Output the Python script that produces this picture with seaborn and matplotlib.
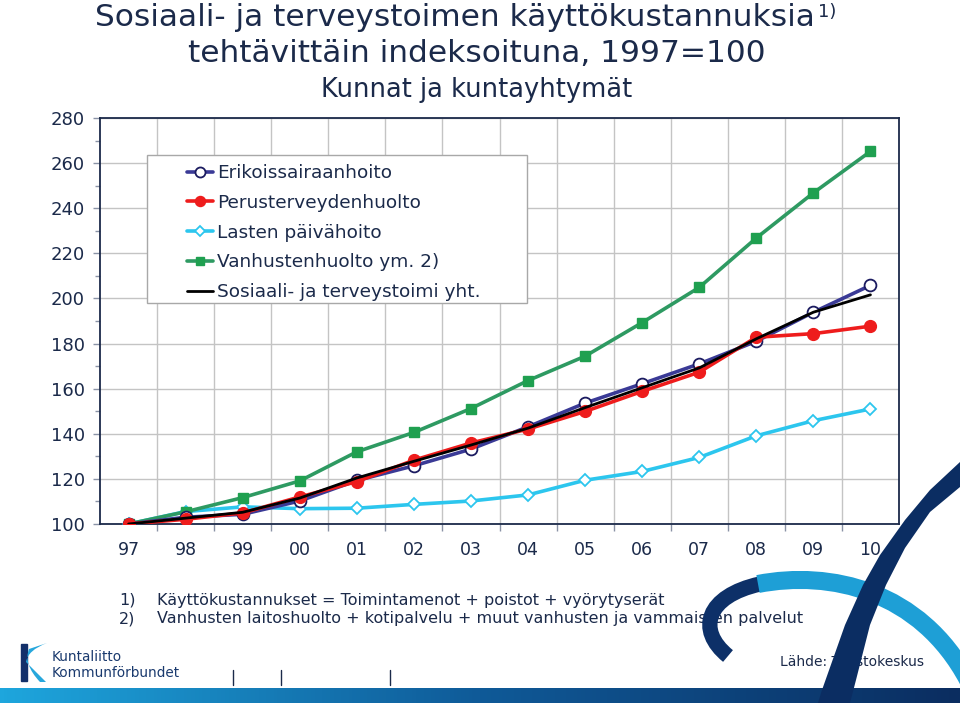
import numpy as np
import pandas as pd
import matplotlib
matplotlib.use("Agg")
import matplotlib.pyplot as plt
import seaborn as sns
from matplotlib.path import Path
from matplotlib.patches import PathPatch, Polygon, Rectangle
from matplotlib.lines import Line2D

# ---------------- data ----------------
years = ["97", "98", "99", "00", "01", "02", "03", "04", "05", "06", "07", "08", "09", "10"]
erikoissairaanhoito = [100, 103.0, 104.3, 110.2, 119.3, 125.8, 133.2, 143.1, 153.6, 162.2, 171.0, 181.0, 193.9, 205.8]
perusterveydenhuolto = [100, 102.1, 104.9, 112.0, 118.8, 128.3, 135.9, 142.1, 149.9, 158.8, 167.3, 182.8, 184.4, 187.7]
lasten_paivahoito = [100, 105.5, 107.6, 106.8, 107.0, 108.7, 110.2, 112.9, 119.4, 123.3, 129.5, 139.1, 145.8, 151.0]
vanhustenhuolto = [100, 105.4, 111.7, 119.1, 132.0, 140.6, 151.2, 163.6, 174.4, 189.3, 204.9, 226.8, 246.8, 265.2]
yhteensa = [100, 102.6, 105.2, 111.5, 120.4, 127.8, 135.0, 142.5, 151.6, 160.4, 169.2, 182.1, 193.9, 201.6]

series_names = ["Erikoissairaanhoito", "Perusterveydenhuolto", "Lasten päivähoito",
                "Vanhustenhuolto ym. 2)", "Sosiaali- ja terveystoimi yht."]
y_ticks = [100, 120, 140, 160, 180, 200, 220, 240, 260, 280]

NAVY = "#1b2a4a"
W, H = 960, 703

sns.set_theme(style="white")
plt.rcParams["font.family"] = ["DejaVu Sans"]

fig = plt.figure(figsize=(W / 100, H / 100), dpi=100)
fig.patch.set_facecolor("white")

ax = fig.add_axes([100 / W, 1 - 524 / H, 799 / W, 406 / H])
x = np.arange(len(years))

styles = [
    dict(data=erikoissairaanhoito, color="#3a3a96", marker="o", mfc="white", mec="#1b1b60", ms=8.5, lw=2.6, mew=1.3, z=4),
    dict(data=perusterveydenhuolto, color="#ee1c1c", marker="o", mfc="#ee1c1c", mec="#ee1c1c", ms=8.5, lw=2.6, mew=1.0, z=5),
    dict(data=lasten_paivahoito, color="#2cc6ee", marker="D", mfc="white", mec="#2cc6ee", ms=6.5, lw=2.6, mew=1.3, z=3),
    dict(data=vanhustenhuolto, color="#2e9a62", marker="s", mfc="#1fa050", mec="#1fa050", ms=7, lw=2.6, mew=1.0, z=3),
    dict(data=yhteensa, color="black", marker=None, mfc="black", mec="black", ms=0, lw=2.0, mew=0, z=6),
]

handles = []
for name, st in zip(series_names, styles):
    df = pd.DataFrame({"year": x, "value": st["data"]})
    sns.lineplot(data=df, x="year", y="value", ax=ax, color=st["color"], linewidth=st["lw"],
                 marker=st["marker"], markersize=st["ms"], markerfacecolor=st["mfc"],
                 markeredgecolor=st["mec"], markeredgewidth=st["mew"], zorder=st["z"],
                 legend=False)
    handles.append(Line2D([0], [0], color=st["color"], lw=st["lw"], marker=st["marker"],
                          ms=st["ms"] * 0.85, mfc=st["mfc"], mec=st["mec"], mew=st["mew"]))

ax.set_xlim(-0.5, len(years) - 0.5)
ax.set_ylim(100, 280)
ax.set_xlabel("")
ax.set_ylabel("")
ax.set_xticks(x)
ax.set_xticklabels(years)
ax.set_xticks(np.arange(0.5, len(years) - 0.5, 1), minor=True)
ax.set_yticks(y_ticks)
ax.set_yticks(np.arange(110, 280, 20), minor=True)
ax.tick_params(axis="x", which="major", length=0, pad=12, labelsize=12.5, labelcolor=NAVY)
ax.tick_params(axis="x", which="minor", length=5, width=1, color="#8a93a6", direction="out", bottom=True)
ax.tick_params(axis="y", which="major", length=5, width=1, color="#8a93a6", direction="out", left=True,
               pad=6, labelsize=13, labelcolor=NAVY)
ax.tick_params(axis="y", which="minor", length=3.5, width=1, color="#8a93a6", direction="out", left=True)
ax.grid(False)
ax.grid(True, axis="y", which="major", color="#c4c4c4", lw=1.0)
ax.grid(True, axis="x", which="minor", color="#c4c4c4", lw=1.0)
ax.set_axisbelow(True)
for sp in ax.spines.values():
    sp.set_color(NAVY)
    sp.set_linewidth(1.3)
    sp.set_visible(True)

# legend box (frame drawn separately to match the wide reference box)
def ax_fx(px):
    return (px - 100) / 799

def ax_fy(py):
    return (524 - py) / 406

ax.add_patch(Rectangle((ax_fx(147), ax_fy(303)), ax_fx(527) - ax_fx(147), ax_fy(155) - ax_fy(303),
                       transform=ax.transAxes, facecolor="white", edgecolor="#a8a8a8", lw=1.0, zorder=9))
leg = ax.legend(handles, series_names, loc="upper left", bbox_to_anchor=(ax_fx(187), ax_fy(164)),
                fontsize=13.3, frameon=False, handlelength=1.4, handletextpad=0.22,
                labelspacing=0.64, borderpad=0.0, borderaxespad=0)
for t in leg.get_texts():
    t.set_color(NAVY)
leg.set_zorder(10)

# ---------------- titles & notes ----------------
def fx(px):
    return px / W

def fy(py):
    return 1 - py / H

t1 = fig.text(fx(95), fy(18), "Sosiaali- ja terveystoimen käyttökustannuksia", fontsize=22.5,
              color=NAVY, ha="left", va="center")
fig.canvas.draw()
bb = t1.get_window_extent(renderer=fig.canvas.get_renderer())
fig.text(bb.x1 / W + 3 / W, fy(12), "1)", fontsize=13, color=NAVY, ha="left", va="center")
fig.text(fx(477), fy(53), "tehtävittäin indeksoituna, 1997=100", fontsize=22.5, color=NAVY,
         ha="center", va="center")
fig.text(fx(477), fy(90), "Kunnat ja kuntayhtymät", fontsize=18.5, color=NAVY, ha="center", va="center")

fig.text(fx(119), fy(600), "1)", fontsize=11.5, color=NAVY, va="center")
fig.text(fx(157), fy(600), "Käyttökustannukset = Toimintamenot + poistot + vyörytyserät",
         fontsize=11.5, color=NAVY, va="center")
fig.text(fx(119), fy(619), "2)", fontsize=11.5, color=NAVY, va="center")
fig.text(fx(157), fy(619), "Vanhusten laitoshuolto + kotipalvelu + muut vanhusten ja vammaisten palvelut",
         fontsize=11.5, color=NAVY, va="center")
fig.text(fx(780), fy(662), "Lähde: Tilastokeskus", fontsize=10, color=NAVY, va="center")
fig.text(fx(52), fy(657), "Kuntaliitto", fontsize=9.8, color="#1a3a6e", va="center")
fig.text(fx(52), fy(673), "Kommunförbundet", fontsize=9.8, color="#1a3a6e", va="center")

# ---------------- decorations ----------------
ov = fig.add_axes([0, 0, 1, 1], zorder=20)
ov.set_xlim(0, W)
ov.set_ylim(H, 0)
ov.axis("off")
ov.patch.set_alpha(0)

# separators
for sx in [233, 281, 390]:
    ov.plot([sx, sx], [670, 685], color=NAVY, lw=1.0)

# bottom gradient band
grad = np.linspace(0, 1, 256).reshape(1, -1)
cmap = matplotlib.colors.LinearSegmentedColormap.from_list("band", ["#1ea6dd", "#0f5a98", "#0b2d60"])
ov.imshow(grad, extent=(0, W, H, 688), aspect="auto", cmap=cmap, zorder=1)

# logo
ov.add_patch(Polygon([(21, 644), (27, 644), (27, 681), (21, 681)], closed=True, color="#13306a", zorder=3))
logo_path = Path([(47, 643), (28, 650), (26, 662), (46, 682), (40, 682), (23, 664), (29, 649), (47, 643)],
                 [Path.MOVETO, Path.CURVE3, Path.LINETO, Path.LINETO, Path.LINETO, Path.CURVE3, Path.LINETO, Path.CLOSEPOLY])
ov.add_patch(PathPatch(logo_path, color="#27a7dc", lw=0, zorder=4))

# ribbon: navy tail + cyan arc
tail = Path([(728, 656), (696, 630), (706, 596), (760, 584)],
            [Path.MOVETO, Path.CURVE4, Path.CURVE4, Path.CURVE4])
ov.add_patch(PathPatch(tail, facecolor="none", edgecolor="#0d3068", lw=11, capstyle="butt", zorder=5))
arc = Path([(758, 584), (830, 570), (920, 590), (968, 680)],
           [Path.MOVETO, Path.CURVE4, Path.CURVE4, Path.CURVE4])
ov.add_patch(PathPatch(arc, facecolor="none", edgecolor="#1e9fd6", lw=13, capstyle="butt", zorder=6))

# navy diagonal band
band = [(960, 462), (930, 490), (905, 520), (880, 555), (863, 585), (845, 625), (822, 690), (818, 703),
        (850, 703), (856, 680), (870, 625), (886, 585), (905, 548), (930, 512), (960, 487)]
ov.add_patch(Polygon(band, closed=True, color="#0b2d62", lw=0, zorder=7))

fig.savefig("out.png", dpi=100, facecolor="white")
